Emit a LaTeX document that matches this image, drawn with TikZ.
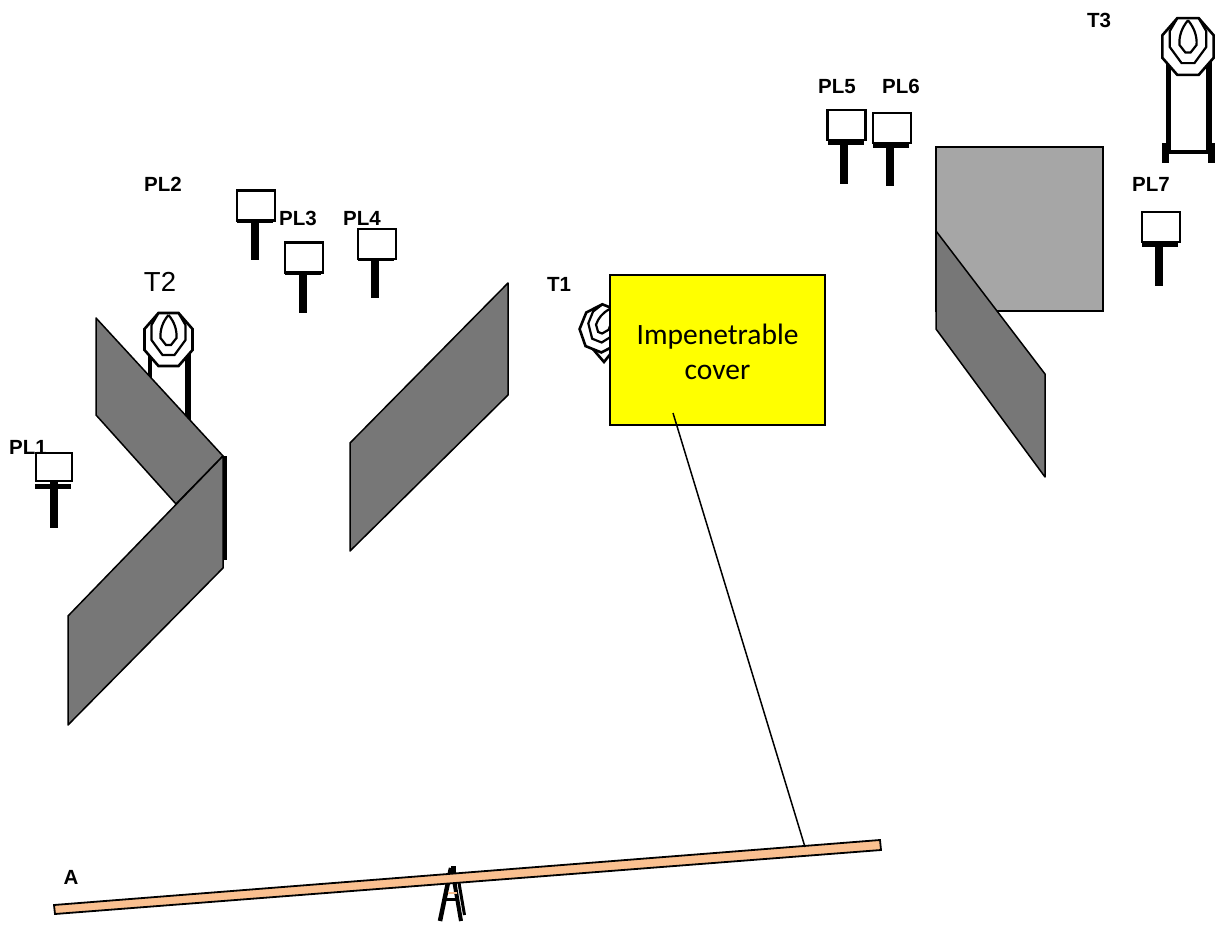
\documentclass[tikz,border=0pt]{standalone}
\usepackage{fontspec}
\setmainfont{Liberation Sans}
\newfontfamily\coverfont{Carlito}
\definecolor{coveryellow}{RGB}{255,255,0}
\definecolor{beamorange}{RGB}{250,192,144}
\definecolor{walldark}{RGB}{119,119,119}
\definecolor{walllight}{RGB}{166,166,166}

% one popper: [box options]{name}{box centre}{foot of post}{bar shift}
\newcommand{\popper}[5][]{
\coordinate (#2top) at (#3);
\coordinate (#2tip) at (#4);
\draw[post] (#2tip |- #2top) -- (#2tip);
\draw[bar] (#2top) ++(-19,15+#5) -- ++(36,0);
\node[plate,#1] (#2) at (#2top) {};
}
% one paper target: head only, centre at #1,#2, scaled #3, turned #4
\newcommand{\targethead}[4]{
\begin{scope}[shift={(#1,#2)},scale=#3,rotate=#4]
\draw[head] (-10,-26) -- (10,-26) -- (24,-10) -- (24,11) -- (10,27) -- (-10,27) -- (-24,11) -- (-24,-10) -- cycle;
\draw[ring] (-10,-26) -- (-17,-14) -- (-17,1) -- (-6,16) -- (6,16) -- (17,1) -- (17,-14) -- (10,-26);
\draw[ring] (0,-24) .. controls (-6,-17) and (-8.5,-9) .. (-8,-1) -- (-2.5,6) -- (2.5,6) -- (8,-1) .. controls (8.5,-9) and (6,-17) .. (0,-24);
\end{scope}
}

\begin{document}
\begin{tikzpicture}[x=1pt,y=-1pt]
\tikzstyle{every node}=[inner sep=0pt,outer sep=0pt];
\tikzstyle{label}=[text height=14.5pt,text depth=0pt,font=\bfseries\fontsize{20.5}{22}\selectfont];
\tikzstyle{plate}=[draw,line width=2.2pt,fill=white,minimum width=38pt,minimum height=30pt];
\tikzstyle{post}=[line width=8pt];
\tikzstyle{bar}=[line width=5pt];
\tikzstyle{head}=[fill=white,draw,line width=2.6pt];
\tikzstyle{ring}=[draw,line width=2.2pt];
\tikzstyle{wall}=[draw,fill=walldark,line width=1.5pt,line join=round];
\useasboundingbox (0,0) rectangle (1224,933);

% labels
\node[label] (PL1text) at (28,447) {PL1};
\node[label] (PL2text) at (163,184) {PL2};
\node[label] (PL3text) at (298,218) {PL3};
\node[label] (PL4text) at (362,218) {PL4};
\node[label] (PL5text) at (837,86) {PL5};
\node[label] (PL6text) at (901,86) {PL6};
\node[label] (PL7text) at (1151,184) {PL7};
\node[label] (T1text) at (559,284) {T1};
\node[font=\fontsize{27.5}{30}\selectfont] (T2text) at (160,282) {T2};
\node[label] (T3text) at (1099,20) {T3};
\node[label] (Atext) at (71,877) {A};

% poppers
\popper[line width=1.3pt,minimum width=36pt,minimum height=28pt]{PL1}{54,467}{53.5,528}{4}
\popper{PL2}{256,205.5}{255,260}{0}
\popper{PL3}{304,257.5}{303,313}{0}
\popper{PL4}{377,244}{374.5,298}{0}
\popper{PL5}{846.5,125}{844,184}{2.5}
\popper{PL6}{892,128}{890,186}{2.5}
\popper{PL7}{1161,227}{1158.5,286}{2.5}

% T2 and its stand, the wall hides the lower part
\draw[line width=3.5pt] (150,350) -- (150,400);
\draw[line width=6pt] (188,350) -- (188,430);
\targethead{168.5}{339}{1}{0}

% T3 and its stand
\draw[line width=5.5pt] (1168.5,60) -- (1168.5,152);
\draw[line width=5.5pt] (1209,60) -- (1209,152);
\draw[line width=4pt] (1166,152) -- (1210,152);
\draw[line width=7pt] (1165.5,143) -- (1165.5,163);
\draw[line width=7pt] (1211,143) -- (1211,163);
\targethead{1188}{46}{1.07}{0}

% T1 behind the cover
\draw[line width=2.6pt] (592,348) -- (604,362) -- (612,352);
\targethead{602}{328}{0.85}{-22}

% walls
\draw[line width=3.5pt] (225,456) -- (225,560);
\draw[wall] (96,318) -- (223,456) -- (176,504) -- (96,415) -- cycle;
\draw[wall] (223,456) -- (223,568) -- (68,725) -- (68,616) -- cycle;
\draw[wall] (508,283) -- (508,395) -- (350,551) -- (350,443) -- cycle;
\draw[fill=walllight,line width=1.5pt] (936,147) rectangle (1103,311);
\draw[wall] (936,231) -- (1045,374) -- (1045,477) -- (936,329) -- cycle;

% cover and sight line
\node[draw,fill=coveryellow,line width=1.5pt,minimum width=215pt,minimum height=150pt] (cover) at (717.5,350) {};
\node[align=center,font=\coverfont\fontsize{29.5}{35}\selectfont] (covertext) at (717.5,352) {Impenetrable\\cover};
\coordinate (coverfoot) at (673,413);
\coordinate (beamhit) at (805,847);

% seesaw
\draw[line width=4.5pt] (451,868) -- (440,921);
\draw[line width=4pt] (454,880) -- (461,921);
\draw[line width=3pt] (458.5,880) -- (464.5,915);
\draw[line width=5pt] (453,866) -- (453,880);
\draw[line width=3pt] (446,899) -- (458,899);
\draw[beamorange,line width=2pt] (447.5,893) -- (456.5,893);
\draw[fill=beamorange,line width=1.8pt] (54,905) -- (880,840) -- (881,850) -- (55,914) -- cycle;
\draw[line width=1.5pt] (coverfoot) -- (beamhit);
\end{tikzpicture}
\end{document}
